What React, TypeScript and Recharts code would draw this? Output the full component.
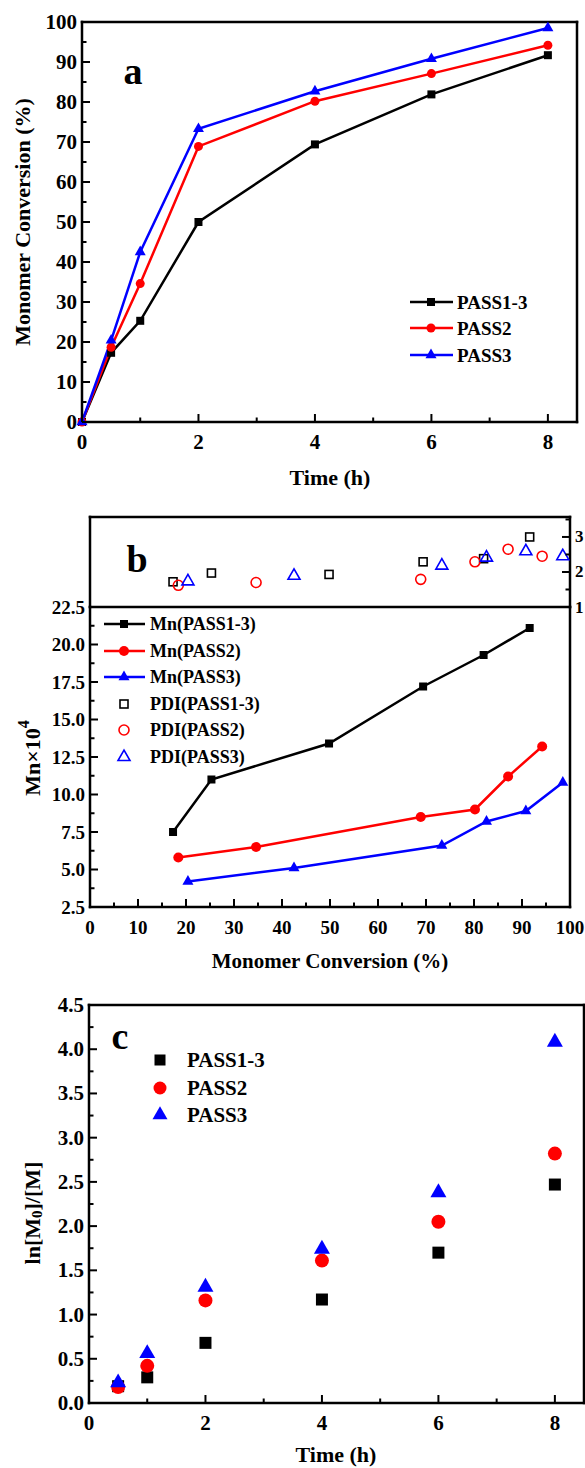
import React from "react";
import { ComposedChart, Line, Scatter, XAxis, YAxis, Customized } from "recharts";

const FONT = '"Liberation Serif", "Times New Roman", serif';

// ---- panel a: conversion vs time
const timeA = [0, 0.5, 1, 2, 4, 6, 8];
const convPass13 = [0, 17.3, 25.3, 50.0, 69.4, 81.9, 91.7];
const convPass2 = [0, 18.7, 34.6, 68.9, 80.2, 87.1, 94.2];
const convPass3 = [0, 20.4, 42.5, 73.3, 82.7, 90.8, 98.5];

// ---- panel b: Mn and PDI vs conversion
const xPass13 = [17.3, 25.3, 49.8, 69.4, 82.0, 91.6];
const xPass2 = [18.4, 34.6, 68.9, 80.2, 87.1, 94.2];
const xPass3 = [20.4, 42.5, 73.3, 82.6, 90.8, 98.5];
const mnPass13 = [7.5, 11.0, 13.4, 17.2, 19.3, 21.1];
const mnPass2 = [5.8, 6.5, 8.5, 9.0, 11.2, 13.2];
const mnPass3 = [4.2, 5.1, 6.6, 8.2, 8.9, 10.8];
const pdiPass13 = [1.72, 1.97, 1.93, 2.29, 2.38, 3.0];
const pdiPass2 = [1.62, 1.7, 1.79, 2.29, 2.65, 2.45];
const pdiPass3 = [1.73, 1.89, 2.18, 2.41, 2.59, 2.45];

// ---- panel c: ln(M0/M) vs time
const timeC = [0.5, 1, 2, 4, 6, 8];
const lnPass13 = [0.19, 0.29, 0.68, 1.17, 1.7, 2.47];
const lnPass2 = [0.18, 0.42, 1.16, 1.61, 2.05, 2.82];
const lnPass3 = [0.23, 0.56, 1.31, 1.74, 2.38, 4.08];

const namesAC = ["PASS1-3", "PASS2", "PASS3"];
const namesB = ["Mn(PASS1-3)", "Mn(PASS2)", "Mn(PASS3)", "PDI(PASS1-3)", "PDI(PASS2)", "PDI(PASS3)"];

// ticks
const timeTicks = [0, 1, 2, 3, 4, 5, 6, 7, 8];
const timeMajors = [0, 2, 4, 6, 8];
const convTicks = [0, 5, 10, 15, 20, 25, 30, 35, 40, 45, 50, 55, 60, 65, 70, 75, 80, 85, 90, 95, 100];
const convMajors = [0, 10, 20, 30, 40, 50, 60, 70, 80, 90, 100];
const mnTicks = [2.5, 3.75, 5, 6.25, 7.5, 8.75, 10, 11.25, 12.5, 13.75, 15, 16.25, 17.5, 18.75, 20, 21.25, 22.5];
const mnMajors = [2.5, 5, 7.5, 10, 12.5, 15, 17.5, 20, 22.5];
const pdiTicks = [1, 1.5, 2, 2.5, 3, 3.5];
const pdiMajors = [1, 2, 3];
const lnTicks = [0, 0.25, 0.5, 0.75, 1, 1.25, 1.5, 1.75, 2, 2.25, 2.5, 2.75, 3, 3.25, 3.5, 3.75, 4, 4.25, 4.5];
const lnMajors = [0, 0.5, 1, 1.5, 2, 2.5, 3, 3.5, 4, 4.5];

const BLACK = "#000000";
const RED = "#ff0000";
const BLUE = "#0000ff";

const toPts = (xs: number[], ys: number[]) => xs.map((x, i) => ({ x, y: ys[i] }));

const frame = { stroke: "#000", strokeWidth: 2.5, strokeLinecap: "square" as const };

type Side = "bottom" | "top" | "left" | "right";

function makeTick(side: Side, majors: number[], fontSize = 20, fmt: (v: number) => string = String, showLabel = true) {
  return function TickMark(props: any) {
    const { x, y, payload } = props;
    const v = Number(payload.value);
    const major = majors.some((m) => Math.abs(m - v) < 1e-6);
    const len = major ? 8 : 4.5;
    const ls = { stroke: "#000", strokeWidth: 2 };
    const ts = { fontFamily: FONT, fontWeight: "bold" as const, fontSize, fill: "#000" };
    let line;
    let label = null;
    if (side === "bottom") {
      line = <line x1={x} x2={x} y1={y} y2={y - len} {...ls} />;
      if (showLabel && major)
        label = (
          <text x={x} y={y + 20} textAnchor="middle" dominantBaseline="central" {...ts}>
            {fmt(v)}
          </text>
        );
    } else if (side === "top") {
      line = <line x1={x} x2={x} y1={y} y2={y + len} {...ls} />;
    } else if (side === "left") {
      line = <line x1={x} x2={x + len} y1={y} y2={y} {...ls} />;
      if (showLabel && major)
        label = (
          <text x={x - 5} y={y} textAnchor="end" dominantBaseline="central" {...ts}>
            {fmt(v)}
          </text>
        );
    } else {
      line = <line x1={x} x2={x - len} y1={y} y2={y} {...ls} />;
      if (showLabel && major)
        label = (
          <text x={x + 5} y={y} textAnchor="start" dominantBaseline="central" {...ts}>
            {fmt(v)}
          </text>
        );
    }
    return (
      <g>
        {line}
        {label}
      </g>
    );
  };
}

function Marker({ shape, cx, cy, size, color, hollow = false }: any) {
  const fill = hollow ? "none" : color;
  const stroke = hollow ? color : "none";
  const sw = hollow ? 1.6 : 0;
  if (shape === "square")
    return <rect x={cx - size / 2} y={cy - size / 2} width={size} height={size} fill={fill} stroke={stroke} strokeWidth={sw} />;
  if (shape === "circle") return <circle cx={cx} cy={cy} r={size / 2} fill={fill} stroke={stroke} strokeWidth={sw} />;
  const h = size * 0.87;
  return (
    <polygon
      points={`${cx},${cy - (h * 2) / 3} ${cx - size / 2},${cy + h / 3} ${cx + size / 2},${cy + h / 3}`}
      fill={fill}
      stroke={stroke}
      strokeWidth={sw}
      strokeLinejoin="miter"
    />
  );
}

const dotOf = (shape: string, color: string, size: number, hollow = false) => (p: any) =>
  <Marker key={`m-${p.index}`} shape={shape} cx={p.cx} cy={p.cy} size={size} color={color} hollow={hollow} />;

const txt = { fontFamily: FONT, fontWeight: "bold" as const, fill: "#000" };

function PanelA() {
  const shapes = ["square", "circle", "triangle"];
  const colors = [BLACK, RED, BLUE];
  const sizes = [8, 9, 11];
  const rows = [302, 328, 355];
  return (
    <ComposedChart width={585} height={490} margin={{ top: 21, right: 7, bottom: 8, left: 0 }}>
      <XAxis xAxisId="b" dataKey="x" type="number" domain={[0, 8.5]} ticks={timeTicks} interval={0}
        height={60} tickSize={0} tickMargin={0} tickLine={false} axisLine={frame}
        tick={makeTick("bottom", timeMajors, 21)} />
      <XAxis xAxisId="t" orientation="top" type="number" domain={[0, 8.5]} ticks={timeTicks} interval={0}
        height={1} tickSize={0} tickMargin={0} tickLine={false} axisLine={frame}
        tick={makeTick("top", timeMajors)} />
      <YAxis yAxisId="l" type="number" domain={[0, 100]} ticks={convTicks} interval={0}
        width={82} tickSize={0} tickMargin={0} tickLine={false} axisLine={frame}
        tick={makeTick("left", convMajors, 21)} />
      <YAxis yAxisId="r" orientation="right" type="number" domain={[0, 100]} ticks={convTicks} interval={0}
        width={1} tickSize={0} tickMargin={0} tickLine={false} axisLine={frame}
        tick={makeTick("right", convMajors, 21, String, false)} />
      <Line xAxisId="b" yAxisId="l" data={toPts(timeA, convPass13)} dataKey="y" type="linear" stroke={BLACK}
        strokeWidth={2.5} dot={dotOf("square", BLACK, 8)} activeDot={false} isAnimationActive={false} />
      <Line xAxisId="b" yAxisId="l" data={toPts(timeA, convPass2)} dataKey="y" type="linear" stroke={RED}
        strokeWidth={2.5} dot={dotOf("circle", RED, 9)} activeDot={false} isAnimationActive={false} />
      <Line xAxisId="b" yAxisId="l" data={toPts(timeA, convPass3)} dataKey="y" type="linear" stroke={BLUE}
        strokeWidth={2.5} dot={dotOf("triangle", BLUE, 11)} activeDot={false} isAnimationActive={false} />
      <Customized
        component={() => (
          <g>
            <text x={133} y={84} textAnchor="middle" fontSize={38} {...txt}>a</text>
            <text x={22} y={222} transform="rotate(-90 22 222)" textAnchor="middle" dominantBaseline="central" fontSize={22} {...txt}>
              Monomer Conversion (%)
            </text>
            <text x={330} y={477} textAnchor="middle" dominantBaseline="central" fontSize={22} {...txt}>Time (h)</text>
            {namesAC.map((n, i) => (
              <g key={n}>
                <line x1={410} x2={453} y1={rows[i]} y2={rows[i]} stroke={colors[i]} strokeWidth={2.5} />
                <Marker shape={shapes[i]} cx={431} cy={rows[i]} size={sizes[i]} color={colors[i]} />
                <text x={457} y={rows[i]} dominantBaseline="central" fontSize={19} {...txt}>{n}</text>
              </g>
            ))}
          </g>
        )}
      />
    </ComposedChart>
  );
}

// upper strip of panel b: PDI on the right axis
function PanelBTop() {
  return (
    <ComposedChart width={585} height={130} margin={{ top: 26, right: 0, bottom: 12, left: 0 }}>
      <XAxis xAxisId="b" dataKey="x" type="number" domain={[0, 100]} ticks={convTicks} interval={0}
        height={1} tickSize={0} tickMargin={0} tickLine={false} axisLine={frame} tick={false} />
      <XAxis xAxisId="t" orientation="top" type="number" domain={[0, 100]} ticks={convTicks} interval={0}
        height={1} tickSize={0} tickMargin={0} tickLine={false} axisLine={frame}
        tick={makeTick("top", convMajors)} />
      <YAxis yAxisId="l" type="number" domain={[1, 3.57]} width={90} tickSize={0} tickLine={false}
        axisLine={frame} tick={false} />
      <YAxis yAxisId="p" orientation="right" type="number" domain={[1, 3.57]} ticks={pdiTicks} interval={0}
        width={15} tickSize={0} tickMargin={0} tickLine={false} axisLine={frame}
        tick={makeTick("right", pdiMajors, 17)} />
      <Scatter xAxisId="b" yAxisId="p" data={toPts(xPass13, pdiPass13)} dataKey="y" isAnimationActive={false}
        shape={(p: any) => <Marker shape="square" cx={p.cx} cy={p.cy} size={8} color={BLACK} hollow />} />
      <Scatter xAxisId="b" yAxisId="p" data={toPts(xPass2, pdiPass2)} dataKey="y" isAnimationActive={false}
        shape={(p: any) => <Marker shape="circle" cx={p.cx} cy={p.cy} size={10} color={RED} hollow />} />
      <Scatter xAxisId="b" yAxisId="p" data={toPts(xPass3, pdiPass3)} dataKey="y" isAnimationActive={false}
        shape={(p: any) => <Marker shape="triangle" cx={p.cx} cy={p.cy} size={12} color={BLUE} hollow />} />
      <Customized component={() => <text x={137} y={82} textAnchor="middle" fontSize={38} {...txt}>b</text>} />
    </ComposedChart>
  );
}

// lower part of panel b: Mn lines
function PanelBBottom() {
  const shapes = ["square", "circle", "triangle", "square", "circle", "triangle"];
  const colors = [BLACK, RED, BLUE, BLACK, RED, BLUE];
  const sizes = [8, 10, 11, 8, 10, 12];
  const rows = [34, 61, 87, 114, 140, 167];
  return (
    <ComposedChart width={585} height={390} margin={{ top: 17, right: 14, bottom: 13, left: 0 }}>
      <XAxis xAxisId="b" dataKey="x" type="number" domain={[0, 100]} ticks={convTicks} interval={0}
        height={60} tickSize={0} tickMargin={0} tickLine={false} axisLine={frame}
        tick={makeTick("bottom", convMajors, 19)} />
      <YAxis yAxisId="l" type="number" domain={[2.5, 22.5]} ticks={mnTicks} interval={0}
        width={90} tickSize={0} tickMargin={0} tickLine={false} axisLine={frame}
        tick={makeTick("left", mnMajors, 19, (v) => v.toFixed(1))} />
      <YAxis yAxisId="r" orientation="right" type="number" domain={[2.5, 22.5]} ticks={mnTicks} interval={0}
        width={1} tickSize={0} tickMargin={0} tickLine={false} axisLine={frame}
        tick={makeTick("right", mnMajors, 19, String, false)} />
      <Line xAxisId="b" yAxisId="l" data={toPts(xPass13, mnPass13)} dataKey="y" type="linear" stroke={BLACK}
        strokeWidth={2.5} dot={dotOf("square", BLACK, 8)} activeDot={false} isAnimationActive={false} />
      <Line xAxisId="b" yAxisId="l" data={toPts(xPass2, mnPass2)} dataKey="y" type="linear" stroke={RED}
        strokeWidth={2.5} dot={dotOf("circle", RED, 10)} activeDot={false} isAnimationActive={false} />
      <Line xAxisId="b" yAxisId="l" data={toPts(xPass3, mnPass3)} dataKey="y" type="linear" stroke={BLUE}
        strokeWidth={2.5} dot={dotOf("triangle", BLUE, 11)} activeDot={false} isAnimationActive={false} />
      <Customized
        component={() => (
          <g>
            <text x={32} y={168} transform="rotate(-90 32 168)" textAnchor="middle" dominantBaseline="central" fontSize={22} {...txt}>
              Mn×10<tspan dy={-9} fontSize={16}>4</tspan>
            </text>
            <text x={330} y={371} textAnchor="middle" dominantBaseline="central" fontSize={21} {...txt}>
              Monomer Conversion (%)
            </text>
            {namesB.map((n, i) => (
              <g key={n}>
                {i < 3 && <line x1={104} x2={145} y1={rows[i]} y2={rows[i]} stroke={colors[i]} strokeWidth={2.5} />}
                <Marker shape={shapes[i]} cx={124} cy={rows[i]} size={sizes[i]} color={colors[i]} hollow={i >= 3} />
                <text x={150} y={rows[i]} dominantBaseline="central" fontSize={18} {...txt}>{n}</text>
              </g>
            ))}
          </g>
        )}
      />
    </ComposedChart>
  );
}

function PanelC() {
  const shapes = ["square", "circle", "triangle"];
  const colors = [BLACK, RED, BLUE];
  const sizes = [11, 13, 15];
  const rows = [80, 108, 135];
  return (
    <ComposedChart width={585} height={488} margin={{ top: 24, right: 0, bottom: 5, left: 0 }}>
      <XAxis xAxisId="b" dataKey="x" type="number" domain={[0, 8.5]} ticks={timeTicks} interval={0}
        height={60} tickSize={0} tickMargin={0} tickLine={false} axisLine={frame}
        tick={makeTick("bottom", timeMajors, 21)} />
      <XAxis xAxisId="t" orientation="top" type="number" domain={[0, 8.5]} ticks={timeTicks} interval={0}
        height={1} tickSize={0} tickMargin={0} tickLine={false} axisLine={frame}
        tick={makeTick("top", timeMajors)} />
      <YAxis yAxisId="l" type="number" domain={[0, 4.5]} ticks={lnTicks} interval={0}
        width={89} tickSize={0} tickMargin={0} tickLine={false} axisLine={frame}
        tick={makeTick("left", lnMajors, 21, (v) => v.toFixed(1))} />
      <YAxis yAxisId="r" orientation="right" type="number" domain={[0, 4.5]} ticks={lnTicks} interval={0}
        width={1} tickSize={0} tickMargin={0} tickLine={false} axisLine={frame}
        tick={makeTick("right", lnMajors, 21, String, false)} />
      <Scatter xAxisId="b" yAxisId="l" data={toPts(timeC, lnPass13)} dataKey="y" isAnimationActive={false}
        shape={(p: any) => <Marker shape="square" cx={p.cx} cy={p.cy} size={12} color={BLACK} />} />
      <Scatter xAxisId="b" yAxisId="l" data={toPts(timeC, lnPass2)} dataKey="y" isAnimationActive={false}
        shape={(p: any) => <Marker shape="circle" cx={p.cx} cy={p.cy} size={14} color={RED} />} />
      <Scatter xAxisId="b" yAxisId="l" data={toPts(timeC, lnPass3)} dataKey="y" isAnimationActive={false}
        shape={(p: any) => <Marker shape="triangle" cx={p.cx} cy={p.cy} size={16} color={BLUE} />} />
      <Customized
        component={() => (
          <g>
            <text x={120} y={69} textAnchor="middle" fontSize={38} {...txt}>c</text>
            <text x={32} y={233} transform="rotate(-90 32 233)" textAnchor="middle" dominantBaseline="central" fontSize={22} {...txt}>
              ln[M<tspan dy={5} fontSize={15}>0</tspan><tspan dy={-5}>]/[M]</tspan>
            </text>
            <text x={336} y={474} textAnchor="middle" dominantBaseline="central" fontSize={22} {...txt}>Time (h)</text>
            {namesAC.map((n, i) => (
              <g key={n}>
                <Marker shape={shapes[i]} cx={160} cy={rows[i]} size={sizes[i]} color={colors[i]} />
                <text x={187} y={rows[i]} dominantBaseline="central" fontSize={21} {...txt}>{n}</text>
              </g>
            ))}
          </g>
        )}
      />
    </ComposedChart>
  );
}

export default function App() {
  const box = (top: number): React.CSSProperties => ({ position: "absolute", left: 0, top });
  return (
    <div style={{ position: "absolute", left: 0, top: 0, width: 585, height: 1468, background: "#fff", overflow: "hidden" }}>
      <div style={box(0)}><PanelA /></div>
      <div style={box(490)}><PanelBTop /></div>
      <div style={box(590)}><PanelBBottom /></div>
      <div style={box(980)}><PanelC /></div>
    </div>
  );
}
